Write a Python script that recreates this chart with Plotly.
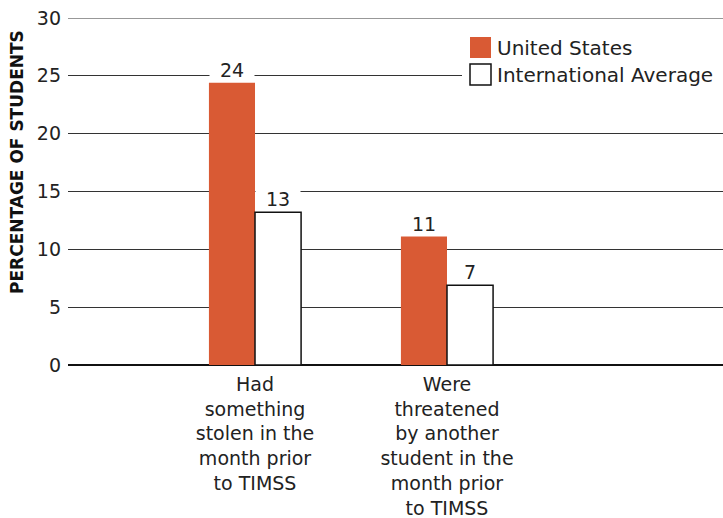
import plotly.graph_objects as go

# Survey results: share of students reporting each incident
categories = [
    "Had<br>something<br>stolen in the<br>month prior<br>to TIMSS",
    "Were<br>threatened<br>by another<br>student in the<br>month prior<br>to TIMSS",
]
series_names = ["United States", "International Average"]
us_values = [24.4, 11.1]
intl_values = [13.2, 6.9]
y_ticks = [0, 5, 10, 15, 20, 25, 30]

FONT = "DejaVu Sans"
ORANGE = "#D95A34"
TEXT = "#222222"
GRID = "#333333"

W, H = 723, 518
M_L, M_R, M_T, M_B = 68, 0, 18, 153
PW, PH = W - M_L - M_R, H - M_T - M_B


def px(xp):
    """Horizontal pixel position -> paper coordinate."""
    return (xp - M_L) / PW


def py(yp):
    """Vertical pixel position -> paper coordinate."""
    return 1 - (yp - M_T) / PH


fig = go.Figure()
fig.add_trace(go.Bar(
    x=categories, y=us_values, name=series_names[0],
    marker=dict(color=ORANGE, line=dict(width=0)),
))
fig.add_trace(go.Bar(
    x=categories, y=intl_values, name=series_names[1],
    marker=dict(color="white", line=dict(color="#111111", width=1.5)),
))

# top gridline sits on the plot edge, so draw it explicitly
fig.add_shape(type="line", xref="paper", yref="y", layer="below",
              x0=0, x1=1, y0=y_ticks[-1], y1=y_ticks[-1],
              line=dict(color=GRID, width=1))

# value labels on white boxes so the gridlines break around them
for vals, shift in ((us_values, -23), (intl_values, 23)):
    for cat, v in zip(categories, vals):
        fig.add_annotation(
            x=cat, y=v, xref="x", yref="y", xshift=shift, yshift=1,
            text=f"{v:.0f}", showarrow=False, yanchor="bottom",
            bgcolor="white", width=44, borderpad=0,
            font=dict(family=FONT, size=19, color=TEXT),
        )

# legend block: white panel over the gridlines, big swatches, labels
fig.add_shape(type="rect", xref="paper", yref="paper", layer="above",
              x0=px(462), x1=px(723), y0=py(92), y1=py(31),
              fillcolor="white", line=dict(width=0))
swatches = [
    dict(fill=ORANGE, line=dict(width=0), top=37),
    dict(fill="white", line=dict(color="#111111", width=1.5), top=64),
]
for name, sw in zip(series_names, swatches):
    fig.add_shape(type="rect", xref="paper", yref="paper", layer="above",
                  x0=px(470), x1=px(491), y0=py(sw["top"] + 21), y1=py(sw["top"]),
                  fillcolor=sw["fill"], line=sw["line"])
    fig.add_annotation(
        xref="paper", yref="paper", x=px(495), y=py(sw["top"] + 11),
        text=name, showarrow=False, xanchor="left", yanchor="middle",
        font=dict(family=FONT, size=20, color=TEXT),
    )

# vertical axis title
fig.add_annotation(
    xref="paper", yref="paper", x=px(17), y=py(162),
    text="<b>PERCENTAGE OF STUDENTS</b>", textangle=-90, showarrow=False,
    xanchor="center", yanchor="middle",
    font=dict(family=FONT, size=17, color="#111111"),
)

fig.update_layout(
    width=W, height=H,
    margin=dict(l=M_L, r=M_R, t=M_T, b=M_B),
    paper_bgcolor="white", plot_bgcolor="white",
    barmode="group", bargap=0.52, bargroupgap=0,
    font=dict(family=FONT, size=19, color=TEXT),
    showlegend=False,
    xaxis=dict(
        type="category", range=[-0.974, 2.4375],
        showgrid=False, showline=False, ticks="", ticklabelstandoff=6,
        tickfont=dict(family=FONT, size=19, color=TEXT),
    ),
    yaxis=dict(
        range=[0, 30], tickvals=y_ticks,
        showgrid=True, gridcolor=GRID, gridwidth=1,
        zeroline=True, zerolinecolor="#111111", zerolinewidth=2,
        showline=False, ticks="", ticklabelstandoff=6,
        tickfont=dict(family=FONT, size=19, color=TEXT),
    ),
)

fig.write_html("out.html")
